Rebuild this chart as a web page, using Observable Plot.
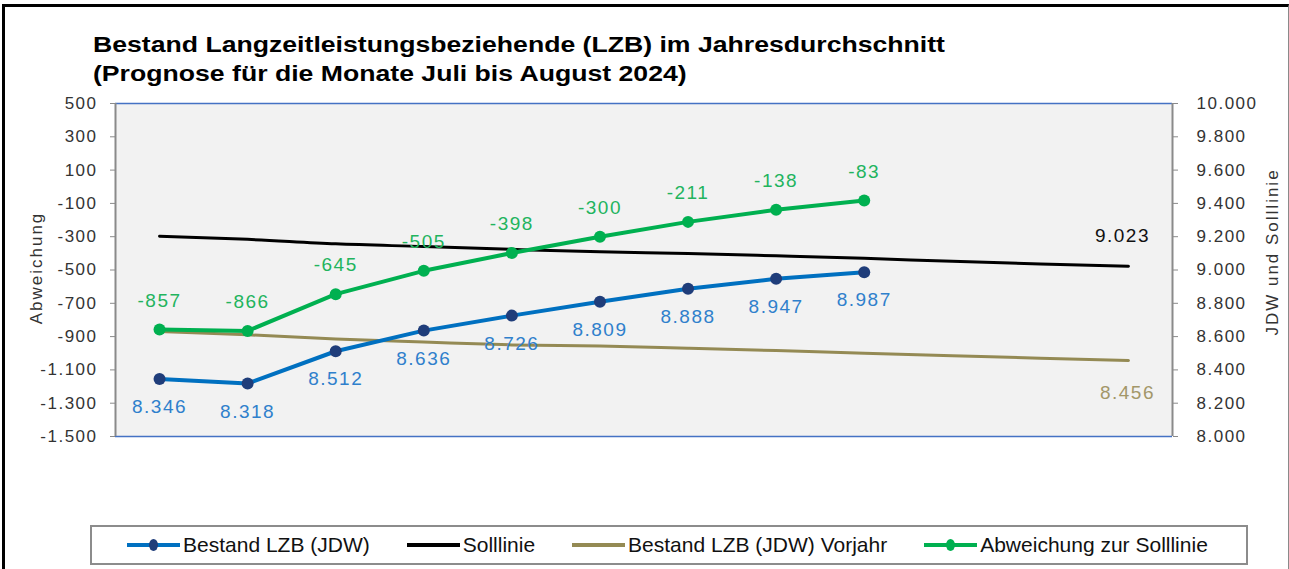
<!DOCTYPE html>
<html><head><meta charset="utf-8">
<script src="https://cdn.jsdelivr.net/npm/d3@7"></script>
<script src="https://cdn.jsdelivr.net/npm/@observablehq/plot@0.6"></script>
<style>
html,body{margin:0;padding:0;background:#fff;}
#wrap{position:relative;width:1289px;height:569px;overflow:hidden;font-family:"Liberation Sans",Arial,sans-serif;background:#fff;}
#frame{position:absolute;left:2px;top:4px;width:1287px;height:600px;border-top:3px solid #000;border-left:3px solid #000;border-right:1px solid #8a8a8a;box-sizing:border-box;}
#title{position:absolute;left:93px;top:30px;font-weight:bold;font-size:22px;line-height:29px;color:#000;white-space:nowrap;transform:scaleX(1.21);transform-origin:0 0;}
#chart{position:absolute;left:0;top:0;}
.axtitle{position:absolute;font-size:17px;letter-spacing:2px;color:#333;white-space:nowrap;transform:translate(-50%,-50%) rotate(-90deg);}
#legend{position:absolute;left:90px;top:525px;width:1158px;height:40px;border:2px solid #8c8c8c;box-sizing:border-box;display:flex;align-items:center;padding-left:35px;font-family:"Liberation Sans Narrow","Liberation Sans",Arial,sans-serif;font-size:21px;color:#111;}
.item{display:flex;align-items:center;margin-right:37px;white-space:nowrap;}
.item svg{margin-right:3px;}
#chart svg text{letter-spacing:1.5px;}
</style>
</head><body>
<div id="wrap">
  <div id="frame"></div>
  <div id="title">Bestand Langzeitleistungsbeziehende (LZB) im Jahresdurchschnitt<br>(Prognose für die Monate Juli bis August 2024)</div>
  <div id="chart"></div>
  <div class="axtitle" style="left:37px;top:268px;">Abweichung</div>
  <div class="axtitle" style="left:1273px;top:252px;">JDW und Solllinie</div>
  <div id="legend"></div>
</div>
<script>
// ---- data ----
const months = ["Jan","Feb","Mär","Apr","Mai","Jun","Jul","Aug","Sep","Okt","Nov","Dez"];
const bestand = [8346, 8318, 8512, 8636, 8726, 8809, 8888, 8947, 8987];
const abweichung = [-857, -866, -645, -505, -398, -300, -211, -138, -83];
const solllinie = [9203, 9184, 9157, 9141, 9124, 9109, 9099, 9085, 9070, 9052, 9036, 9023];
const vorjahr = [8631, 8611, 8585, 8567, 8550, 8543, 8530, 8516, 8500, 8485, 8470, 8456];
const leftTicks = [-1500, -1300, -1100, -900, -700, -500, -300, -100, 100, 300, 500];
const rightOffset = 9500; // right axis (JDW) = left axis (Abweichung) + 9500
const seriesNames = ["Bestand LZB (JDW)", "Solllinie", "Bestand LZB (JDW) Vorjahr", "Abweichung zur Solllinie"];
const colors = {blue:"#0070c0", navy:"#1f3d7a", black:"#000000", olive:"#948a54", green:"#00b050",
  blueLbl:"#2f80cc", greenLbl:"#22b45e", oliveLbl:"#a39769"};

const de = d3.formatLocale({decimal:",", thousands:".", grouping:[3], currency:["","€"], minus:"-"});
const fmt = de.format(",d");

const bestandData = bestand.map((v,i)=>({m:i+1, v, y:v-rightOffset}));
const abwData = abweichung.map((v,i)=>({m:i+1, v, y:v}));
const sollData = solllinie.map((v,i)=>({m:i+1, v, y:v-rightOffset}));
const vorData = vorjahr.map((v,i)=>({m:i+1, v, y:v-rightOffset}));
const lastSoll = [sollData[sollData.length-1]];
const lastVor = [vorData[vorData.length-1]];

const chart = Plot.plot({
  width: 1289, height: 460,
  marginLeft: 115, marginRight: 117, marginTop: 103, marginBottom: 24,
  style: {fontFamily: '"Liberation Sans", Arial, sans-serif', fontSize: "17px", color: "#333", background: "transparent"},
  x: {type: "linear", domain: [0.5, months.length + 0.5], axis: null},
  y: {domain: [-1500, 500], axis: null},
  marks: [
    Plot.frame({fill: "#f2f2f2", stroke: null}),
    Plot.ruleY([500, -1500], {stroke: "#4472c4", strokeWidth: 1.5}),
    Plot.ruleX([0.5, months.length + 0.5], {stroke: "#8a8a8a", strokeWidth: 2}),
    Plot.axisY(leftTicks, {anchor: "left", label: null, tickSize: 5, tickPadding: 13, stroke: "#8a8a8a", fill: "#333", tickFormat: d => fmt(d), fontSize: 17}),
    Plot.axisY(leftTicks, {anchor: "right", label: null, tickSize: 5, tickPadding: 19, stroke: "#8a8a8a", fill: "#333", tickFormat: d => fmt(d + rightOffset), fontSize: 17, textAnchor: "start"}),
    // lines
    Plot.line(vorData, {x: "m", y: "y", stroke: colors.olive, strokeWidth: 3, curve: "monotone-x"}),
    Plot.line(sollData, {x: "m", y: "y", stroke: colors.black, strokeWidth: 3, curve: "monotone-x"}),
    Plot.line(bestandData, {x: "m", y: "y", stroke: colors.blue, strokeWidth: 4}),
    Plot.dot(bestandData, {x: "m", y: "y", r: 6, fill: colors.navy, stroke: null}),
    Plot.line(abwData, {x: "m", y: "y", stroke: colors.green, strokeWidth: 4}),
    Plot.dot(abwData, {x: "m", y: "y", r: 6, fill: colors.green, stroke: null}),
    // labels
    Plot.text(abwData, {x: "m", y: "y", text: d => fmt(d.v), dy: -29, fill: colors.greenLbl, fontSize: 19}),
    Plot.text(bestandData, {x: "m", y: "y", text: d => fmt(d.v), dy: 28, fill: colors.blueLbl, fontSize: 19}),
    Plot.text(lastSoll, {x: "m", y: "y", text: d => fmt(d.v), dy: -30, dx: -6, fill: "#111", fontSize: 19}),
    Plot.text(lastVor, {x: "m", y: "y", text: d => fmt(d.v), dy: 32, dx: -1, fill: colors.oliveLbl, fontSize: 19})
  ]
});
document.getElementById("chart").appendChild(chart);

// legend
const legendSpec = [
  {name: seriesNames[0], line: colors.blue, marker: colors.navy},
  {name: seriesNames[1], line: colors.black, marker: null},
  {name: seriesNames[2], line: colors.olive, marker: null},
  {name: seriesNames[3], line: colors.green, marker: colors.green}
];
const legend = document.getElementById("legend");
for (const s of legendSpec) {
  const item = document.createElement("div");
  item.className = "item";
  const ns = "http://www.w3.org/2000/svg";
  const sw = document.createElementNS(ns, "svg");
  sw.setAttribute("width", 53); sw.setAttribute("height", 16);
  const ln = document.createElementNS(ns, "line");
  ln.setAttribute("x1", 0); ln.setAttribute("x2", 53); ln.setAttribute("y1", 8); ln.setAttribute("y2", 8);
  ln.setAttribute("stroke", s.line); ln.setAttribute("stroke-width", 4);
  sw.appendChild(ln);
  if (s.marker) {
    const c = document.createElementNS(ns, "ellipse");
    c.setAttribute("cx", 26.5); c.setAttribute("cy", 8); c.setAttribute("rx", 4.5); c.setAttribute("ry", 6);
    c.setAttribute("fill", s.marker);
    sw.appendChild(c);
  }
  item.appendChild(sw);
  const t = document.createElement("span");
  t.textContent = s.name;
  item.appendChild(t);
  legend.appendChild(item);
}
</script>
</body></html>
